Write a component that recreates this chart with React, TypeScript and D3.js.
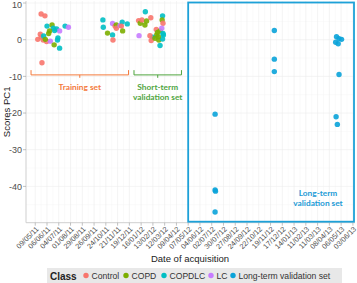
import React from 'react';
import * as d3 from 'd3';

const tickLabels = ['09/05/11', '06/06/11', '04/07/11', '01/08/11', '29/08/11', '26/09/11', '24/10/11', '21/11/11', '19/12/11', '16/01/12', '13/02/12', '12/03/12', '09/04/12', '07/05/12', '04/06/12', '02/07/12', '30/07/12', '27/08/12', '24/09/12', '22/10/12', '19/11/12', '17/12/12', '14/01/13', '11/02/13', '11/03/13', '08/04/13', '06/05/13', '03/06/13'];
const yTicks = [10, 0, -10, -20, -30, -40];

const classNames = ['Control', 'COPD', 'COPDLC', 'LC', 'Long-term validation set'];
const classColors = ['#F8766D', '#7CAE00', '#00BFC4', '#C77CFF', '#0AA3D9'];

// acquisition date, PC1 score, class index
const pointDates = [
  '23/05/11', '01/06/11', '25/05/11', '21/05/11', '15/05/11', '28/05/11', '05/06/11', '23/05/11',
  '06/06/11', '18/06/11', '21/06/11', '29/06/11', '19/07/11', '27/07/11', '06/07/11', '24/06/11',
  '12/06/11', '10/06/11', '29/05/11', '14/06/11', '02/07/11', '01/07/11', '23/06/11', '06/07/11', '02/06/11',
  '17/10/11', '18/10/11', '28/10/11', '09/11/11', '10/11/11', '09/11/11', '15/11/11', '18/11/11',
  '18/11/11', '27/11/11', '02/12/11', '30/11/11', '14/12/11', '03/12/11',
  '10/01/12', '14/01/12', '18/01/12', '25/01/12', '29/01/12', '08/02/12', '26/01/12', '11/01/12',
  '07/03/12', '06/03/12', '08/03/12', '21/02/12', '24/02/12', '22/02/12', '01/03/12', '05/03/12',
  '09/03/12', '13/02/12', '09/02/12', '18/02/12', '01/03/12', '27/02/12', '07/03/12', '06/02/12', '26/02/12', '08/03/12',
  '10/07/12', '10/07/12', '11/07/12', '10/07/12',
  '28/11/12', '28/11/12', '28/11/12',
  '25/04/13', '01/05/13', '07/05/13', '23/04/13', '29/04/13', '01/05/13', '24/04/13', '27/04/13'
];
const pointScores = [
  7.0, 6.5, -6.3, 1.5, 0.1, -0.1, -0.5, 0.7,
  3.7, 4.0, 3.1, 2.9, 3.7, 3.4, 2.4, 2.5,
  2.4, 1.7, 1.0, -0.4, 0.5, -0.1, -1.4, -2.3, 0.1,
  5.4, 3.4, 1.8, 1.3, -0.1, 4.4, 3.7, 4.0,
  3.1, 3.9, 4.8, 3.7, 4.3, 2.4,
  5.2, 4.5, 5.4, 4.0, 5.1, 6.0, 7.6, 1.1,
  6.5, 5.4, 4.5, 2.8, 2.0, 1.3, 2.4, 3.1,
  1.3, 0.7, -0.2, 0.4, -1.6, -0.1, 0.2, 1.1, 0.8, 1.7,
  -20.3, -41.0, -41.3, -47.0,
  2.5, -5.3, -8.7,
  0.8, 0.3, 0.1, -0.7, -1.1, -9.5, -21.0, -23.1
];
const pointClasses = [
  0, 0, 0, 0, 0, 0, 0, 0,
  2, 1, 2, 2, 2, 3, 3, 2,
  1, 1, 2, 3, 2, 2, 1, 2, 1,
  2, 2, 1, 2, 0, 3, 0, 1,
  0, 3, 2, 0, 2, 1,
  0, 1, 0, 1, 1, 0, 2, 3,
  2, 1, 0, 0, 1, 1, 1, 3,
  2, 2, 0, 1, 2, 1, 2, 0, 1, 2,
  4, 4, 4, 4,
  4, 4, 4,
  4, 4, 4, 4, 4, 4, 4, 4
];

const bracketNames = [['Training set'], ['Short-term', 'validation set']];
const bracketStarts = ['29/04/11', '30/12/11'];
const bracketEnds = ['17/12/11', '21/04/12'];
const bracketColors = ['#F47A3C', '#4FA53F'];

const longTermStart = '07/05/12';
const longTermLabel = ['Long-term', 'validation set'];

const parse = d3.timeParse('%d/%m/%y');

export default function App() {
  const left = 26, right = 355, top = 1, bottom = 222.7;
  const x = d3.scaleTime()
    .domain([parse('17/04/11') as Date, parse('08/06/13') as Date])
    .range([left, right]);
  const y = d3.scaleLinear().domain([-49.9, 10.55]).range([bottom, top]);

  const tickDates = tickLabels.map(t => parse(t) as Date);
  const minorX = tickDates.slice(0, -1).map((d, i) => new Date((+d + +tickDates[i + 1]) / 2));
  const minorY = d3.range(-45, 10, 10);

  const sans = 'Liberation Sans, Arial, sans-serif';
  const calibri = 'Lato, Open Sans, sans-serif';

  const legendX = [86, 126, 164, 211, 233];

  return (
    <svg width={357} height={283} style={{ position: 'absolute', left: 0, top: 0, background: '#fff' }}>
      {/* grid */}
      {minorY.map(v => <line key={'my' + v} x1={left} x2={right} y1={y(v)} y2={y(v)} stroke="#f5f5f5" strokeWidth={0.5} />)}
      {minorX.map((d, i) => <line key={'mx' + i} x1={x(d)} x2={x(d)} y1={top} y2={bottom} stroke="#f5f5f5" strokeWidth={0.5} />)}
      {yTicks.map(v => <line key={'gy' + v} x1={left} x2={right} y1={y(v)} y2={y(v)} stroke="#ececec" strokeWidth={0.6} />)}
      {tickDates.map((d, i) => <line key={'gx' + i} x1={x(d)} x2={x(d)} y1={top} y2={bottom} stroke="#ececec" strokeWidth={0.6} />)}

      {/* axes */}
      <line x1={left} x2={left} y1={top} y2={bottom} stroke="#cfcfcf" strokeWidth={1} />
      <line x1={left} x2={right} y1={bottom} y2={bottom} stroke="#cfcfcf" strokeWidth={1} />
      {yTicks.map(v => (
        <g key={'yt' + v}>
          <line x1={left - 3} x2={left} y1={y(v)} y2={y(v)} stroke="#999" strokeWidth={0.6} />
          <text x={left - 4} y={Math.max(y(v), 4.5)} dy="0.35em" textAnchor="end" fontSize={9} fill="#4d4d4d" fontFamily={sans}>{v}</text>
        </g>
      ))}
      {tickDates.map((d, i) => (
        <g key={'xt' + i}>
          <line x1={x(d)} x2={x(d)} y1={bottom} y2={bottom + 3} stroke="#999" strokeWidth={0.6} />
          <text transform={`translate(${x(d) + 2},${bottom + 5}) rotate(-45)`} textAnchor="end" dy="0.35em" fontSize={7.3} fill="#4d4d4d" fontFamily={sans}>{tickLabels[i]}</text>
        </g>
      ))}
      <text transform={`translate(10,${(top + bottom) / 2}) rotate(-90)`} textAnchor="middle" fontSize={9.5} fill="#222" fontFamily={sans}>Scores PC1</text>
      <text x={190} y={262} textAnchor="middle" fontSize={9.5} fill="#222" fontFamily={sans}>Date of acquisition</text>

      {/* long-term box */}
      <rect x={x(parse(longTermStart) as Date)} y={top + 1.5} width={right - 1 - x(parse(longTermStart) as Date)} height={bottom - top - 2.5}
        fill="none" stroke="#1DA1D8" strokeWidth={1.8} />

      {/* points */}
      {pointDates.map((d, i) => (
        <circle key={'p' + i} cx={x(parse(d) as Date)} cy={y(pointScores[i])} r={2.7}
          fill={classColors[pointClasses[i]]} fillOpacity={0.9} />
      ))}

      {/* brackets */}
      {bracketNames.map((lines, i) => {
        const x0 = x(parse(bracketStarts[i]) as Date), x1 = x(parse(bracketEnds[i]) as Date);
        const yTop = y(-8.3), yMid = y(-9.6), yLow = y(-10.4);
        const xm = (x0 + x1) / 2;
        return (
          <g key={'b' + i}>
            <path d={`M${x0},${yTop}V${yMid}H${x1}V${yTop}M${xm},${yMid}V${yLow}`} fill="none" stroke={bracketColors[i]} strokeWidth={1} />
            {lines.map((t, j) => (
              <text key={j} x={xm} y={y(-13.8) + j * 9.5} textAnchor="middle" fontSize={8.3} fontWeight="bold" fill={bracketColors[i]} fontFamily={calibri}>{t}</text>
            ))}
          </g>
        );
      })}
      {longTermLabel.map((t, j) => (
        <text key={'lt' + j} x={318} y={y(-42.6) + j * 10} textAnchor="middle" fontSize={8.3} fontWeight="bold" fill="#1E9BD6" fontFamily={calibri}>{t}</text>
      ))}

      {/* legend */}
      <rect x={47} y={268} width={295} height={15} fill="#e8e8e8" />
      <text x={50} y={279.5} fontSize={10} fontWeight="bold" fill="#222" fontFamily={sans}>Class</text>
      {classNames.map((c, i) => (
        <g key={'lg' + i}>
          <circle cx={legendX[i]} cy={275.5} r={2.7} fill={classColors[i]} />
          <text x={legendX[i] + 5.5} y={278.5} fontSize={8.6} fill="#333" fontFamily={sans}>{c}</text>
        </g>
      ))}
    </svg>
  );
}
